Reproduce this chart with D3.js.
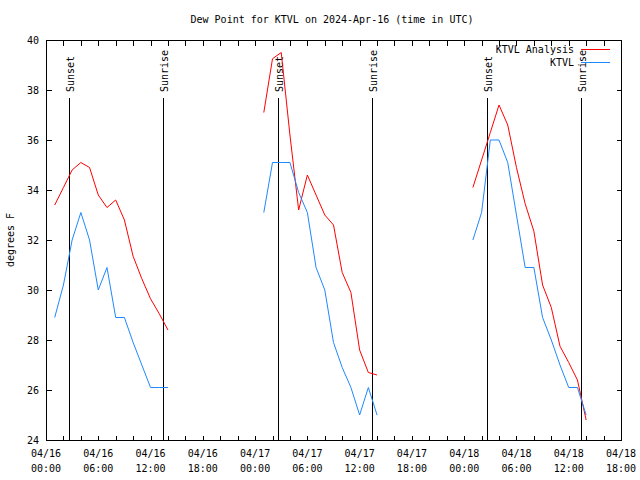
<!DOCTYPE html>
<html><head><meta charset="utf-8">
<script src="https://cdn.jsdelivr.net/npm/d3@7"></script>
<style>
html,body{margin:0;padding:0;background:#fff;}
text{font-family:"DejaVu Sans Mono",monospace;font-size:10px;fill:#000;}
</style></head>
<body><svg id="c" width="640" height="480"></svg>
<script>
// ---- data ----
const titleText = "Dew Point for KTVL on 2024-Apr-16 (time in UTC)";
const yLabel = "degrees F";
const seriesNames = ["KTVL Analysis", "KTVL"];
const seriesColors = ["#ff0000", "#1e88ff"];
const segmentStarts = ["2024-04-16T01:00Z", "2024-04-17T01:00Z", "2024-04-18T01:00Z"];
const analysis1 = [33.4, 34.1, 34.8, 35.1, 34.9, 33.8, 33.3, 33.6, 32.8, 31.35, 30.45, 29.65, 29.05, 28.4];
const analysis2 = [37.1, 39.25, 39.5, 36.2, 33.2, 34.6, 33.8, 33.0, 32.6, 30.7, 29.9, 27.6, 26.7, 26.6];
const analysis3 = [34.1, 35.2, 36.3, 37.4, 36.6, 34.9, 33.45, 32.35, 30.2, 29.3, 27.75, 27.1, 26.4, 24.8];
const obs1 = [28.9, 30.2, 32.0, 33.1, 32.0, 30.0, 30.9, 28.9, 28.9, 27.9, 27.0, 26.1, 26.1, 26.1];
const obs2 = [33.1, 35.1, 35.1, 35.1, 33.9, 33.1, 30.9, 30.0, 27.9, 26.9, 26.1, 25.0, 26.1, 25.0];
const obs3 = [32.0, 33.1, 36.0, 36.0, 35.1, 33.0, 30.9, 30.9, 28.9, 28.0, 27.0, 26.1, 26.1, 25.0];
const sunsets = ["2024-04-16T02:36Z", "2024-04-17T02:35Z", "2024-04-18T02:38Z"];
const sunrises = ["2024-04-16T13:26Z", "2024-04-17T13:28Z", "2024-04-18T13:27Z"];
const xDomain = ["2024-04-16T00:00Z", "2024-04-18T18:00Z"];
const yDomain = [24, 40];
const yTicks = [24, 26, 28, 30, 32, 34, 36, 38, 40];

// ---- layout ----
const L = 46, R = 621, T = 40, B = 440;
const svg = d3.select("#c");
svg.append("rect").attr("width", 640).attr("height", 480).attr("fill", "#fff");
const x = d3.scaleUtc().domain(xDomain.map(d => new Date(d))).range([L, R]);
const y = d3.scaleLinear().domain(yDomain).range([B, T]);
const px = v => Math.round(v) + 0.5;

// axes via d3.axis (ticks inward)
const xTickVals = d3.utcHour.every(2).range(new Date(xDomain[0]), new Date(+new Date(xDomain[1]) + 1));
const fmtD = d3.utcFormat("%m/%d"), fmtT = d3.utcFormat("%H:%M");
const xb = svg.append("g").attr("transform", `translate(0,${B + 0.5})`)
  .call(d3.axisBottom(x).tickValues(xTickVals).tickSizeInner(-5).tickSizeOuter(0).tickFormat(""));
const xt = svg.append("g").attr("transform", `translate(0,${T + 0.5})`)
  .call(d3.axisTop(x).tickValues(xTickVals).tickSizeInner(-5).tickSizeOuter(0).tickFormat(""));
const yl = svg.append("g").attr("transform", `translate(${L + 0.5},0)`)
  .call(d3.axisLeft(y).tickValues(yTicks).tickSizeInner(-5).tickSizeOuter(0).tickFormat(""));
const yr = svg.append("g").attr("transform", `translate(${R + 0.5},0)`)
  .call(d3.axisRight(y).tickValues(yTicks).tickSizeInner(-5).tickSizeOuter(0).tickFormat(""));
[xb, xt, yl, yr].forEach(g => {
  g.select(".domain").remove();
  g.selectAll("line").attr("stroke", "#000").attr("shape-rendering", "crispEdges");
});
xb.selectAll(".tick").attr("transform", d => `translate(${px(x(d)) - 0.5},0)`);
xt.selectAll(".tick").attr("transform", d => `translate(${px(x(d)) - 0.5},0)`);

// frame
svg.append("rect").attr("x", L + 0.5).attr("y", T + 0.5).attr("width", R - L).attr("height", B - T)
  .attr("fill", "none").attr("stroke", "#000").attr("shape-rendering", "crispEdges");

// y tick labels
svg.selectAll(".ylab").data(yTicks).enter().append("text")
  .attr("x", 39).attr("y", d => y(d)).attr("dy", "0.35em").attr("text-anchor", "end").text(d => d);

// x tick labels every 6 h
const xLabVals = d3.utcHour.every(6).range(new Date(xDomain[0]), new Date(+new Date(xDomain[1]) + 1));
const xl = svg.selectAll(".xlab").data(xLabVals).enter().append("g")
  .attr("transform", d => `translate(${x(d)},0)`);
xl.append("text").attr("y", 457).attr("text-anchor", "middle").text(d => fmtD(d));
xl.append("text").attr("y", 472).attr("text-anchor", "middle").text(d => fmtT(d));

// title and y label
svg.append("text").attr("x", 332).attr("y", 23).attr("text-anchor", "middle").text(titleText);
svg.append("text").attr("transform", "translate(14,240) rotate(-90)").attr("text-anchor", "middle").text(yLabel);

// sunset / sunrise markers
const events = sunsets.map(d => ({t: new Date(d), label: "Sunset"}))
  .concat(sunrises.map(d => ({t: new Date(d), label: "Sunrise"})));
events.forEach(e => {
  const ex = px(x(e.t));
  svg.append("line").attr("x1", ex).attr("x2", ex).attr("y1", 98).attr("y2", B)
    .attr("stroke", "#000").attr("stroke-width", 1.3).attr("shape-rendering", "crispEdges");
  svg.append("text").attr("transform", `translate(${ex + 4},92) rotate(-90)`)
    .attr("text-anchor", "start").text(e.label);
});

// series lines
const line = d3.line().x(d => x(d.t)).y(d => y(d.v));
const toPts = (arr, start) => arr.map((v, i) => ({t: d3.utcHour.offset(new Date(start), i), v}));
const analysisSegs = [analysis1, analysis2, analysis3];
const obsSegs = [obs1, obs2, obs3];
[analysisSegs, obsSegs].forEach((segs, si) => {
  segs.forEach((arr, k) => {
    svg.append("path").datum(toPts(arr, segmentStarts[k])).attr("d", line)
      .attr("fill", "none").attr("stroke", seriesColors[si]).attr("stroke-width", 1);
  });
});

// legend
seriesNames.forEach((n, i) => {
  const ly = 49 + i * 13;
  svg.append("text").attr("x", 574).attr("y", ly).attr("dy", "0.35em").attr("text-anchor", "end").text(n);
  svg.append("line").attr("x1", 581).attr("x2", 610).attr("y1", ly + 0.5).attr("y2", ly + 0.5)
    .attr("stroke", seriesColors[i]).attr("shape-rendering", "crispEdges");
});
</script></body></html>
